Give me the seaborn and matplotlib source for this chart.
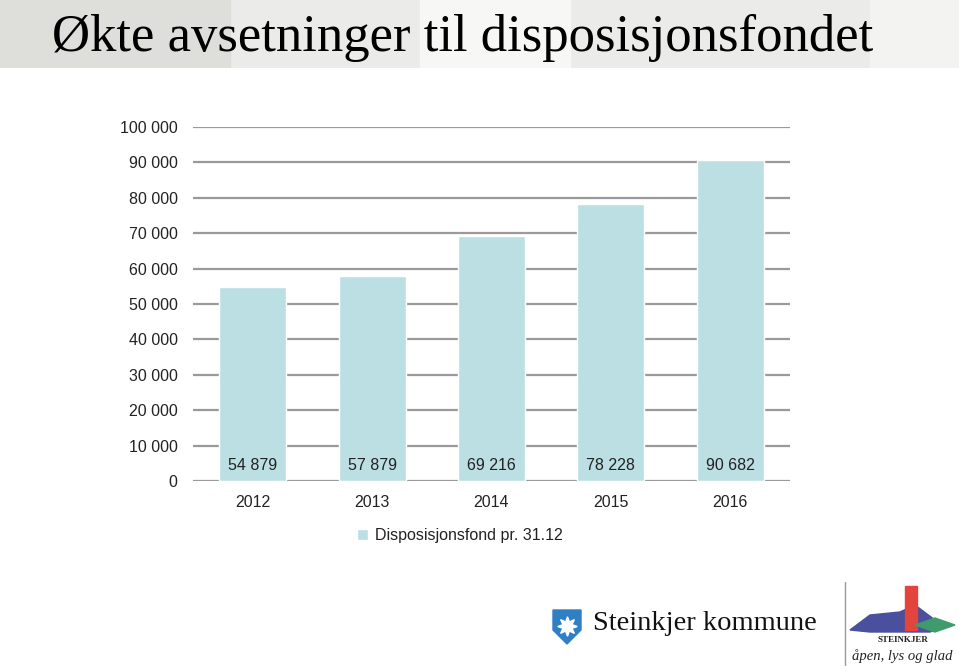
import matplotlib
matplotlib.use("Agg")
import matplotlib.pyplot as plt
import seaborn as sns
import pandas as pd
from matplotlib.patches import Rectangle, Polygon

years = ["2012", "2013", "2014", "2015", "2016"]
values = [54879, 57879, 69216, 78228, 90682]
value_labels = ["54 879", "57 879", "69 216", "78 228", "90 682"]
yticks = [0, 10000, 20000, 30000, 40000, 50000, 60000, 70000, 80000, 90000, 100000]
ytick_labels = ["0", "10 000", "20 000", "30 000", "40 000", "50 000",
                "60 000", "70 000", "80 000", "90 000", "100 000"]
series_name = "Disposisjonsfond pr. 31.12"
title = "Økte avsetninger til disposisjonsfondet"

sns.set_theme(style="white")
plt.rcParams['font.family'] = ['Liberation Sans', 'DejaVu Sans']

df = pd.DataFrame({"year": years, "value": values})
bar_color = "#bbdfe2"

fig = plt.figure(figsize=(9.59, 6.71), dpi=100)
fig.patch.set_facecolor("white")

# title band
band = fig.add_axes([0, 1 - 68 / 671, 1, 68 / 671])
band.set_xlim(0, 959)
band.set_ylim(0, 68)
band.axis("off")
band.add_patch(Rectangle((0, 0), 959, 68, color="#ebebe9", zorder=0))
band.add_patch(Rectangle((0, 0), 230, 68, color="#dedfdb", zorder=1))
band.add_patch(Rectangle((420, 0), 150, 68, color="#f7f7f5", zorder=1))
band.add_patch(Rectangle((870, 0), 89, 68, color="#f3f3f1", zorder=1))
fig.text(52 / 959, 1 - 38 / 671, title, family="Liberation Serif",
         fontsize=38, color="black", va="center", ha="left")

ax = fig.add_axes([193 / 959, 1 - 481 / 671, (790 - 193) / 959, (481 - 127) / 671])
sns.barplot(data=df, x="year", y="value", color=bar_color, width=0.56,
            saturation=1, ax=ax, zorder=3, label=series_name)
ax.set_ylim(0, 100000)
ax.set_xlim(-0.5, len(years) - 0.5)
ax.set_yticks(yticks)
ax.set_yticklabels(ytick_labels, fontsize=11.5, color="#222222")
ax.yaxis.grid(True, color="#9a9a9a", linewidth=1.6, zorder=0)
ax.set_axisbelow(True)
ax.tick_params(axis="y", length=0, pad=11)
ax.tick_params(axis="x", length=0, pad=10, labelsize=11.5, labelcolor="#222222")
for s in ax.spines.values():
    s.set_visible(False)
ax.set_xlabel("")
ax.set_ylabel("")
for i, lab in enumerate(value_labels):
    ax.text(i, 4500, lab, ha="center", va="center", fontsize=11.5, color="#222222", zorder=5)

leg = ax.legend(loc="upper center", bbox_to_anchor=(0.447, -0.092), frameon=False,
                fontsize=11.5, handlelength=0.7, handleheight=0.7, handletextpad=0.4)
for t in leg.get_texts():
    t.set_color("#222222")

# logos
lg = fig.add_axes([0, 0, 1, 1], zorder=-1)
lg.set_xlim(0, 959)
lg.set_ylim(671, 0)
lg.axis("off")
lg.add_patch(Polygon([(553, 610), (581, 610), (581, 630), (567, 644), (553, 630)],
                     closed=True, color="#2f7fc5"))
lg.plot([567], [626], marker=(8, 1, 0), markersize=14, color="white")
lg.text(593, 624, "Steinkjer kommune", family="Liberation Serif", fontsize=20.5,
        va="center", ha="left", color="#111111")
lg.plot([845, 845], [582, 665], color="#999999", lw=1)
lg.add_patch(Polygon([(850, 630), (870, 615), (900, 612), (915, 605), (935, 620),
                      (950, 625), (930, 632), (870, 632)], closed=True, color="#4a4f9e"))
lg.add_patch(Rectangle((905, 586), 12, 44, color="#e3443c"))
lg.add_patch(Polygon([(915, 625), (935, 618), (955, 625), (935, 632)], closed=True,
                     color="#3f9a6c"))
lg.text(903, 640, "STEINKJER", family="Liberation Serif", fontsize=6.5,
        fontweight="bold", ha="center", va="center", color="#222222")
lg.text(902, 656, "åpen, lys og glad", family="Liberation Serif", fontsize=10.5,
        style="italic", ha="center", va="center", color="#222222")

fig.savefig("out.png", dpi=100, facecolor="white")
